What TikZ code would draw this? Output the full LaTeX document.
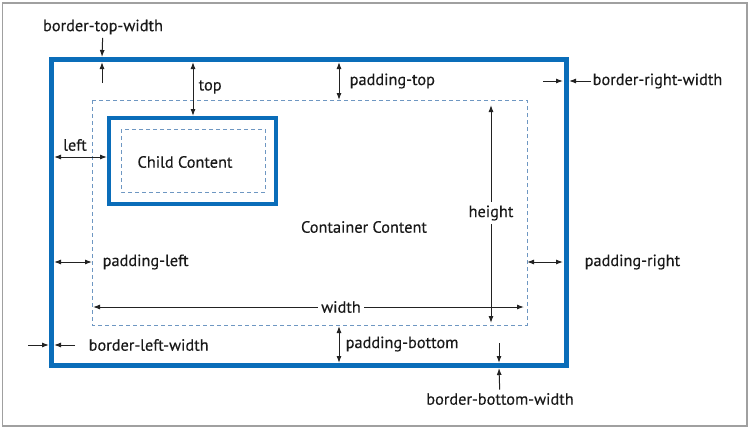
\documentclass[tikz,border=0pt]{standalone}
\usepackage{fontspec}
\setmainfont{PT Sans}[FakeBold=0.35]
\usetikzlibrary{arrows.meta}

\definecolor{boxblue}{HTML}{0A6DB9}
\definecolor{padblue}{HTML}{6E97C2}
\definecolor{dimgray}{HTML}{222222}
\definecolor{framegray}{HTML}{A0A0A0}

\tikzset{
  border/.style={draw=boxblue, line width=5pt},
  padline/.style={draw=padblue, line width=0.9pt, dash pattern=on 4pt off 3pt},
  dimline/.style={draw=dimgray, line width=1pt, -{Latex[length=7pt,width=5pt]}},
  dimboth/.style={draw=dimgray, line width=1pt, {Latex[length=7pt,width=5pt]}-{Latex[length=7pt,width=5pt]}},
  lbl/.style={anchor=west, inner sep=1.5pt},
}

\begin{document}
\begin{tikzpicture}[x=1pt, y=-1pt, font=\fontsize{16.3}{18}\selectfont, text=black!90]
\useasboundingbox (0,0) rectangle (750,429);
\draw[framegray, line width=1.5pt] (2.5,3) rectangle (747,426);

% boxes
\draw[border] (51.5,59.5) rectangle (566,365.5);
\draw[padline] (92,100) rectangle (527,325);
\draw[border, line width=3.5pt] (109,118) rectangle (276,204);
\draw[padline] (121,129) rectangle (265,192);

% texts
\node (child) at (185,162) {Child Content};
\node (cont) at (364,227) {Container Content};
\node (btw) at (103,27) {border-top-width};
\node[lbl] (top) at (197,87) {top};
\node (left) at (75,145) {left};
\node[lbl] (ptop) at (348,81) {padding-top};
\node[lbl] (brw) at (591,81) {border-right-width};
\node (height) at (491,213) {height};
\node (width) at (341,307) {width};
\node[lbl] (pleft) at (101,262) {padding-left};
\node[lbl] (pright) at (583,262) {padding-right};
\node[lbl] (blw) at (87,345) {border-left-width};
\node[lbl] (pbot) at (344,344) {padding-bottom};
\node (bbw) at (500,399) {border-bottom-width};

% end points
\coordinate (btwA) at (102,57);
\coordinate (btwB0) at (102,83);
\coordinate (btwB) at (102,62);
\coordinate (topA) at (193,62);
\coordinate (topB) at (193,116);
\coordinate (leftA) at (54,157);
\coordinate (leftB) at (107,157);
\coordinate (ptopA) at (339,62);
\coordinate (ptopB) at (339,100);
\coordinate (brwA0) at (543,81);
\coordinate (brwA) at (563,81);
\coordinate (brwB) at (569,81);
\coordinate (hT) at (491,105);
\coordinate (hB) at (491,323);
\coordinate (wL) at (93,307);
\coordinate (wR) at (524,307);
\coordinate (plA) at (54,262);
\coordinate (plB) at (92,262);
\coordinate (prA) at (527,262);
\coordinate (prB) at (563,262);
\coordinate (blwA0) at (28,345);
\coordinate (blwA) at (49,345);
\coordinate (blwB0) at (75,345);
\coordinate (blwB) at (54,345);
\coordinate (pbA) at (339,326);
\coordinate (pbB) at (339,363);
\coordinate (bbwA0) at (499,343);
\coordinate (bbwA) at (499,363);
\coordinate (bbwB) at (499,368);

% dimensions
\draw[dimline] (btw) -- (btwA);
\draw[dimline] (btwB0) -- (btwB);
\draw[dimboth] (topA) -- (topB);
\draw[dimboth] (leftA) -- (leftB);
\draw[dimboth] (ptopA) -- (ptopB);
\draw[dimline] (brwA0) -- (brwA);
\draw[dimline] (brw) -- (brwB);
\draw[dimline] (height) -- (hT);
\draw[dimline] (height) -- (hB);
\draw[dimline] (width) -- (wL);
\draw[dimline] (width) -- (wR);
\draw[dimboth] (plA) -- (plB);
\draw[dimboth] (prA) -- (prB);
\draw[dimline] (blwA0) -- (blwA);
\draw[dimline] (blwB0) -- (blwB);
\draw[dimboth] (pbA) -- (pbB);
\draw[dimline] (bbwA0) -- (bbwA);
\draw[dimline] (bbw) -- (bbwB);
\end{tikzpicture}
\end{document}
